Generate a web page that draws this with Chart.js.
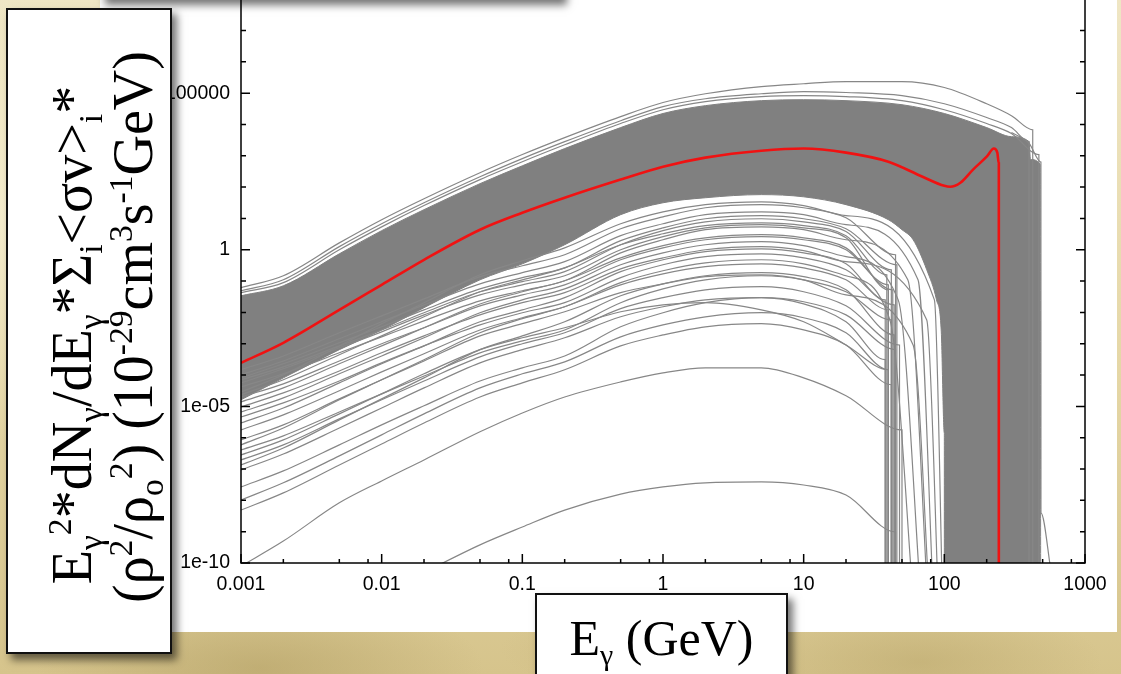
<!DOCTYPE html>
<html>
<head>
<meta charset="utf-8">
<title>Gamma-ray spectra</title>
<script src="https://cdn.jsdelivr.net/npm/chart.js@4.4.1/dist/chart.umd.min.js"></script>
<style>
  html, body { margin: 0; padding: 0; }
  body {
    width: 1121px; height: 674px; overflow: hidden; position: relative;
    font-family: 'Liberation Serif', 'Times New Roman', serif;
    background:
      radial-gradient(ellipse 320px 110px at 260px 668px, rgba(160,140,80,0.40), transparent 70%),
      radial-gradient(ellipse 200px 60px at 640px 650px, rgba(190,170,110,0.30), transparent 70%),
      radial-gradient(ellipse 260px 90px at 920px 662px, rgba(170,150,90,0.35), transparent 70%),
      radial-gradient(ellipse 180px 320px at 10px 220px, rgba(255,250,228,0.55), transparent 70%),
      linear-gradient(180deg, #efe6c4 0%, #e5d7a6 55%, #d6c48c 100%);
  }
  #panel { position: absolute; left: 100px; top: -10px; width: 1017px; height: 642px; background: #fff; }
  #spectrum { position: absolute; left: 100px; top: -100px; }
  .box {
    position: absolute; background: #fff; border: 2px solid #111; box-sizing: border-box;
    box-shadow: 5px 6px 8px rgba(0,0,0,0.55);
  }
  #titleBox { left: 100px; top: -60px; width: 462px; height: 59px; }
  #yBox { left: 6px; top: 8px; width: 166px; height: 646px; }
  #xBox { left: 535px; top: 593px; width: 253px; height: 120px; }
  #ylab {
    position: absolute; left: -218px; top: 270px; width: 640px; height: 120px;
    transform: rotate(-90deg); font-size: 56px; line-height: 60px;
    text-align: center; white-space: nowrap; color: #000;
  }
  #ylab div { position: relative; }
  #ylab .l1 { left: -5px; }
  #ylab .l2 { left: 3px; top: 1px; }
  #xlab {
    position: absolute; left: 535px; top: 608px; width: 253px;
    font-size: 50px; line-height: 60px; text-align: center; white-space: nowrap; color: #000;
  }
  sub, sup { font-size: 0.6em; line-height: 0; position: relative; vertical-align: baseline; }
  sub { top: 0.32em; }
  sup { top: -0.6em; }
</style>
</head>
<body>
<div id="panel"></div>
<canvas id="spectrum" width="1021" height="740"></canvas>
<div class="box" id="titleBox"></div>
<div class="box" id="yBox"></div>
<div id="ylab">
  <div class="l1">E<sub>γ</sub><sup>2</sup>*dN<sub>γ</sub>/dE<sub>γ</sub>*Σ<sub>i</sub>&lt;σv&gt;<sub>i</sub>*</div>
  <div class="l2">(ρ<sup>2</sup>/ρ<sub>o</sub><sup>2</sup>) (10<sup>-29</sup>cm<sup>3</sup>s<sup>-1</sup>GeV)</div>
</div>
<div class="box" id="xBox"></div>
<div id="xlab">E<sub>γ</sub> (GeV)</div>
<script>
// axis ticks
const xTickValues = [0.001, 0.01, 0.1, 1, 10, 100, 1000];
const xTickLabels = ['0.001', '0.01', '0.1', '1', '10', '100', '1000'];
const xMinorSteps = [2, 5, 8];
const yTickValues = [1e-10, 1e-5, 1, 1e5, 1e10];
const yTickLabels = ['1e-10', '1e-05', '1', '100000', '1e+10'];

// all curve values are log10 of the flux
const energy = [0.001, 0.002, 0.005, 0.01, 0.02, 0.05, 0.1, 0.2, 0.5, 1, 2, 5, 10, 20];
const energyHigh = [0.001, 0.002, 0.005, 0.01, 0.02, 0.05, 0.1, 0.2, 0.5, 1, 2, 5, 10, 20, 50, 100, 200, 300];

// red (best fit) curve
const redE = [0.001, 0.002, 0.005, 0.01, 0.02, 0.05, 0.1, 0.2, 0.5, 1, 2, 5, 10, 20, 40, 70, 100, 110, 130, 160, 200, 225, 238, 244, 244];
const redV = [-3.61, -2.97, -1.92, -1.12, -0.32, 0.64, 1.18, 1.66, 2.24, 2.65, 2.94, 3.16, 3.23, 3.10, 2.81, 2.33, 2.04, 2.01, 2.14, 2.56, 2.97, 3.23, 3.10, 2.75, -12];

// outline of the dense grey band
const bandTopE = [0.001, 0.002, 0.005, 0.01, 0.02, 0.05, 0.1, 0.2, 0.5, 1, 2, 5, 10, 20, 50, 100, 200, 300, 400, 410, 480, 485];
const bandTopV = [-1.47, -1.15, -0.13, 0.61, 1.28, 2.11, 2.68, 3.23, 3.90, 4.35, 4.60, 4.76, 4.79, 4.76, 4.63, 4.35, 3.90, 3.61, 3.45, 2.88, 2.72, -12];
const bandBottomE = [0.001, 0.002, 0.005, 0.01, 0.02, 0.05, 0.1, 0.2, 0.5, 1, 2, 5, 10, 20, 40, 50, 60, 75, 88, 95, 100, 100];
const bandBottomV = [-4.79, -4.09, -3.19, -2.56, -1.85, -0.96, -0.45, 0.16, 1.12, 1.50, 1.66, 1.76, 1.69, 1.44, 0.96, 0.64, 0.32, -0.64, -1.60, -2.56, -5.85, -12];

// single grey curves below the band (on energy grid)
const lineA  = [null, null, null, null, -10.3, -9.42, -8.85, -8.31, -7.80, -7.57, -7.44, -7.41, -7.51, -7.83];
const lineB  = [-10.1, -9.30, -8.08, -7.38, -6.71, -5.81, -5.21, -4.70, -4.22, -3.93, -3.77, -3.77, -4.09, -4.66];
const lineM1 = [-8.31, -7.76, -6.87, -6.20, -5.53, -4.70, -4.25, -3.83, -3.07, -2.72, -2.46, -2.36, -2.56, -3.04];
const lineM2 = [-7.99, -7.44, -6.58, -5.91, -5.24, -4.41, -3.96, -3.58, -2.78, -2.40, -2.14, -2.01, -2.17, -2.65];
const lineM3 = [-7.57, -7.06, -6.23, -5.59, -4.98, -4.19, -3.77, -3.39, -2.46, -2.01, -1.69, -1.53, -1.66, -2.08];
const lineM4 = [-7.03, -6.52, -5.69, -5.05, -4.41, -3.61, -3.19, -2.81, -2.14, -1.82, -1.60, -1.53, -1.73, -2.30];
const lineM5 = [-6.71, -6.23, -5.40, -4.79, -4.19, -3.42, -3.00, -2.65, -1.88, -1.53, -1.28, -1.18, -1.34, -1.79];
const lineM6 = [-6.39, -5.94, -5.18, -4.60, -4.03, -3.29, -2.91, -2.56, -1.69, -1.25, -0.96, -0.83, -0.96, -1.34];
const lineM7 = [-6.07, -5.59, -4.76, -4.15, -3.55, -2.75, -2.36, -1.98, -1.37, -1.09, -0.86, -0.80, -0.96, -1.44];
const lineM8 = [-5.75, -5.27, -4.50, -3.90, -3.32, -2.56, -2.17, -1.82, -1.12, -0.77, -0.54, -0.45, -0.58, -0.96];
const lineM9 = [-5.34, -4.89, -4.19, -3.61, -3.07, -2.40, -2.01, -1.69, -0.89, -0.48, -0.22, -0.13, -0.26, -0.64];
const lineM10 = [-5.02, -4.57, -3.87, -3.29, -2.75, -2.08, -1.69, -1.37, -0.61, -0.26, 0.00, 0.10, -0.03, -0.38];
const lineM11 = [-4.70, -4.28, -3.55, -3.00, -2.49, -1.79, -1.44, -1.12, -0.32, 0.06, 0.32, 0.42, 0.32, 0.00];
const lineM12 = [-4.38, -3.96, -3.29, -2.78, -2.27, -1.63, -1.31, -0.99, -0.10, 0.32, 0.64, 0.73, 0.64, 0.32];
const lineM13 = [-6.55, -6.07, -5.24, -4.60, -3.96, -3.19, -2.81, -2.49, -1.98, -1.76, -1.69, -1.92, -2.30, -3.04];
const lineT1 = [-4.15, -3.74, -3.07, -2.56, -2.01, -1.34, -1.02, -0.70, 0.16, 0.61, 0.89, 0.99, 0.89, 0.58];
const lineT2 = [-3.99, -3.55, -2.84, -2.30, -1.76, -1.09, -0.73, -0.38, 0.45, 0.83, 1.12, 1.21, 1.12, 0.80];
const lineT3 = [-3.83, -3.39, -2.65, -2.11, -1.57, -0.86, -0.51, -0.16, 0.67, 1.05, 1.34, 1.44, 1.34, 1.02];
const lineT4 = [-4.54, -3.99, -3.07, -2.36, -1.69, -0.80, -0.35, 0.06, 0.83, 1.21, 1.44, 1.53, 1.41, 1.09];
const lineT5 = [-4.25, -3.80, -3.13, -2.62, -2.08, -1.44, -1.12, -0.83, 0.00, 0.42, 0.70, 0.80, 0.70, 0.38];
const lineT6 = [-4.09, -3.64, -2.97, -2.46, -1.92, -1.25, -0.89, -0.58, 0.29, 0.70, 0.99, 1.09, 0.99, 0.67];
const lineT7 = [-4.63, -4.15, -3.35, -2.75, -2.14, -1.34, -0.96, -0.58, 0.16, 0.51, 0.77, 0.86, 0.77, 0.45];
const lineT8 = [-4.86, -4.41, -3.64, -3.07, -2.49, -1.73, -1.34, -0.99, -0.26, 0.13, 0.38, 0.48, 0.38, 0.06];
const lineT9 = [-5.18, -4.73, -3.96, -3.39, -2.81, -2.01, -1.60, -1.25, -0.48, -0.10, 0.16, 0.26, 0.13, -0.22];
const lineT10 = [-5.53, -5.05, -4.25, -3.64, -3.07, -2.30, -1.92, -1.53, -0.70, -0.32, -0.06, 0.03, -0.10, -0.45];
const lineT11 = [-6.23, -5.69, -4.79, -4.15, -3.51, -2.65, -2.20, -1.82, -1.05, -0.67, -0.42, -0.32, -0.45, -0.83];
const lineT12 = [-6.87, -6.33, -5.43, -4.76, -4.09, -3.19, -2.75, -2.30, -1.47, -1.09, -0.83, -0.73, -0.86, -1.28];
const lowLines = [lineA, lineB, lineM1, lineM2, lineM3, lineM4, lineM5, lineM6, lineM7, lineM8, lineM9,
                  lineM10, lineM11, lineM12, lineM13, lineT1, lineT2, lineT3, lineT4,
                  lineT5, lineT6, lineT7, lineT8, lineT9, lineT10, lineT11, lineT12];
// where each of those curves turns off, and where it reaches the floor
const lowCutE = [45, 50, 42, 40, 45, 38, 48, 42, 60, 40, 44, 75, 40, 55, 40, 42, 65, 45, 85, 40, 46, 39, 43, 47, 38, 41, 44];
const lowCutV = [-9.01, -5.75, -4.31, -3.83, -3.19, -3.51, -3.04, -2.24, -3.04, -1.92, -1.76, -2.24, -1.12, -0.96, -3.83,
                 -0.64, -0.96, -0.16, -1.60, -1.28, -0.48, -0.80, -1.28, -1.60, -1.60, -2.24, -2.72];
const lowDropE = [45, 50, 42, 40, 45, 38, 48, 42, 80, 40, 44, 92, 40, 78, 40, 42, 85, 45, 98, 40, 46, 39, 43, 70, 38, 62, 44];

// grey curves just above the band (on energyHigh grid)
const upper1 = [-1.21, -0.83, 0.22, 0.96, 1.63, 2.46, 3.04, 3.58, 4.25, 4.70, 4.98, 5.21, 5.30, 5.37, 5.37, 5.18, 4.66, 4.28];
const upper2 = [-1.31, -0.96, 0.10, 0.83, 1.50, 2.33, 2.91, 3.45, 4.12, 4.57, 4.82, 4.98, 5.05, 5.02, 4.92, 4.66, 4.22, 3.90];
const upper3 = [-1.37, -1.05, 0.00, 0.73, 1.41, 2.24, 2.81, 3.35, 4.03, 4.47, 4.73, 4.89, 4.92, 4.89, 4.76, 4.47, 4.03, 3.71];
const upperLines = [upper1, upper2, upper3];
const upperCutE = [425, 400, 470];
const upperCutV = [3.83, 3.45, 3.04];

// right-most curve that slants down past the block
const edgeE = [300, 400, 486, 486, 575];
const edgeV = [3.74, 3.40, 2.80, -8.40, -10.3];

const DROP = -12; // curves fall below the axis floor

function points(es, vs) {
  const out = [];
  es.forEach((e, i) => { if (vs[i] !== null) out.push({ x: e, y: Math.pow(10, vs[i]) }); });
  return out;
}
function withDrop(es, vs, cutE, cutV, dropE) {
  const pts = points(es, vs);
  pts.push({ x: cutE, y: Math.pow(10, cutV) });
  pts.push({ x: dropE, y: Math.pow(10, DROP) });
  return pts;
}

const grey = '#878787';
const lineStyle = {
  showLine: true, pointRadius: 0, borderWidth: 1.2, borderColor: grey,
  fill: false, cubicInterpolationMode: 'monotone'
};

const datasets = [];
datasets.push({
  label: 'best fit', data: points(redE, redV), showLine: true, pointRadius: 0,
  borderColor: '#f01212', borderWidth: 2.6, fill: false, cubicInterpolationMode: 'monotone', order: 1
});
lowLines.forEach((vs, i) => {
  datasets.push(Object.assign({ data: withDrop(energy, vs, lowCutE[i], lowCutV[i], lowDropE[i]), order: 2 }, lineStyle));
});
upperLines.forEach((vs, i) => {
  datasets.push(Object.assign({ data: withDrop(energyHigh, vs, upperCutE[i], upperCutV[i], upperCutE[i]), order: 2 }, lineStyle));
});
datasets.push(Object.assign({ data: points(edgeE, edgeV), order: 2 }, lineStyle));

// band polygon: top edge left to right, bottom edge back right to left
const bandPts = points(bandTopE, bandTopV).concat(points(bandBottomE, bandBottomV).reverse());
datasets.push({
  data: bandPts, showLine: true, pointRadius: 0, borderWidth: 1, borderColor: '#808080',
  backgroundColor: '#808080', fill: 'shape', cubicInterpolationMode: 'monotone', order: 3
});

// inward tick marks and the plot frame
const frameTicks = {
  id: 'frameTicks',
  afterDatasetsDraw(chart) {
    const { ctx, chartArea: a, scales: { x, y } } = chart;
    ctx.save();
    ctx.strokeStyle = '#000';
    ctx.lineWidth = 1.5;
    ctx.beginPath();
    for (let d = -10; d <= 10; d++) {
      const py = y.getPixelForValue(Math.pow(10, d));
      const len = d % 5 === 0 ? 9 : 5;
      ctx.moveTo(a.left, py); ctx.lineTo(a.left + len, py);
      ctx.moveTo(a.right, py); ctx.lineTo(a.right - len, py);
    }
    for (let d = -3; d <= 3; d++) {
      const base = Math.pow(10, d);
      const px = x.getPixelForValue(base);
      ctx.moveTo(px, a.bottom); ctx.lineTo(px, a.bottom - 9);
      ctx.moveTo(px, a.top); ctx.lineTo(px, a.top + 9);
      if (d === 3) continue;
      xMinorSteps.forEach(m => {
        const pm = x.getPixelForValue(base * m);
        ctx.moveTo(pm, a.bottom); ctx.lineTo(pm, a.bottom - 4);
        ctx.moveTo(pm, a.top); ctx.lineTo(pm, a.top + 4);
      });
    }
    ctx.stroke();
    ctx.strokeRect(a.left, a.top, a.right - a.left, a.bottom - a.top);
    ctx.restore();
  }
};

const tickFont = { family: "'Liberation Sans', Arial, sans-serif", size: 19.5 };

new Chart(document.getElementById('spectrum').getContext('2d'), {
  type: 'scatter',
  data: { datasets: datasets },
  options: {
    responsive: false,
    animation: false,
    events: [],
    layout: { padding: { left: 0, right: 36, top: 36.5, bottom: 0 } },
    plugins: { legend: { display: false }, tooltip: { enabled: false } },
    scales: {
      x: {
        type: 'logarithmic', min: 0.001, max: 1000,
        grid: { display: false, drawTicks: false }, border: { display: false },
        afterBuildTicks: s => { s.ticks = xTickValues.map(v => ({ value: v })); },
        afterFit: s => { s.height = 77; },
        ticks: { font: tickFont, color: '#000', padding: 10, maxRotation: 0, autoSkip: false,
                 callback: (v, i) => xTickLabels[i] }
      },
      y: {
        type: 'logarithmic', min: 1e-10, max: 1e10,
        grid: { display: false, drawTicks: false }, border: { display: false },
        afterBuildTicks: s => { s.ticks = yTickValues.map(v => ({ value: v })); },
        afterFit: s => { s.width = 141; },
        ticks: { font: tickFont, color: '#000', padding: 11, autoSkip: false,
                 callback: (v, i) => yTickLabels[i] }
      }
    }
  },
  plugins: [frameTicks]
});
</script>
</body>
</html>
